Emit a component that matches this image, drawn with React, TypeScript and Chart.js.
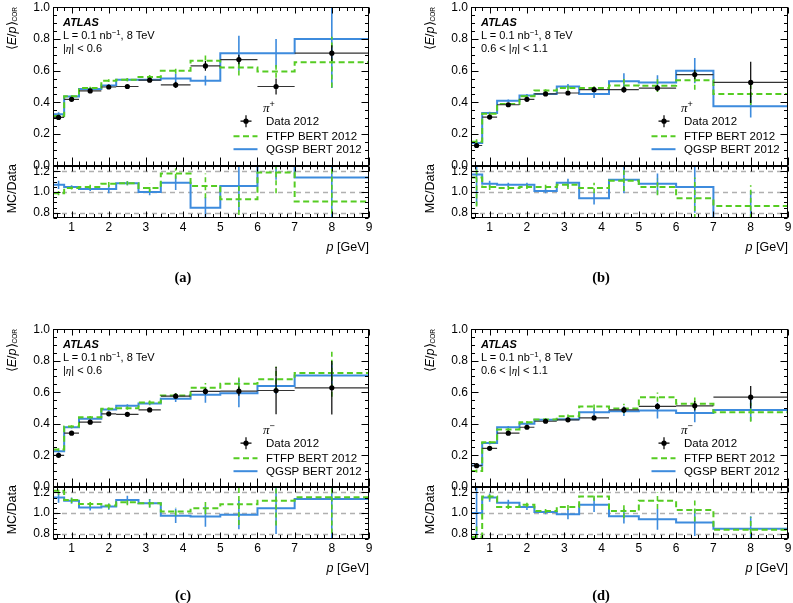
import React, { useEffect, useRef } from 'react';
import { Chart, registerables } from 'chart.js';

Chart.register(...registerables);

const SANS = "'Liberation Sans', Arial, Helvetica, sans-serif";
const SERIF = "'Liberation Serif', 'Times New Roman', serif";

// ---- binning / ticks ----
const BIN_EDGES = [0.5, 0.8, 1.2, 1.8, 2.2, 2.8, 3.4, 4.2, 5, 6, 7, 9];
const BIN_CENTERS = [0.65, 1.0, 1.5, 2.0, 2.5, 3.1, 3.8, 4.6, 5.5, 6.5, 8.0];
const X_TICKS = [1, 2, 3, 4, 5, 6, 7, 8, 9];
const MAIN_Y_TICKS = [0, 0.2, 0.4, 0.6, 0.8, 1.0];
const RATIO_Y_TICKS = [0.8, 1.0, 1.2];
const REF_LINES = [0.8, 1.0, 1.2];
const LEGEND_LABELS = ['Data 2012', 'FTFP BERT 2012', 'QGSP BERT 2012'];
const CAPTIONS = ['(a)', '(b)', '(c)', '(d)'];
const ETA_LABELS = ['|η| < 0.6', '0.6 < |η| < 1.1', '|η| < 0.6', '0.6 < |η| < 1.1'];
const CHARGES = ['+', '+', '−', '−'];

const BLUE = '#3d8bdd';
const GREEN = '#55cc22';

// ---- panel (a): pi+, |eta|<0.6 ----
const dataA = [0.305, 0.419, 0.472, 0.497, 0.5, 0.54, 0.51, 0.63, 0.67, 0.5, 0.71];
const dataErrA = [0.01, 0.006, 0.006, 0.006, 0.006, 0.008, 0.02, 0.03, 0.03, 0.05, 0.05];
const qgspA = [0.325, 0.437, 0.484, 0.507, 0.543, 0.543, 0.55, 0.537, 0.71, 0.71, 0.8];
const qgspErrA = [0.012, 0.006, 0.008, 0.008, 0.01, 0.012, 0.03, 0.03, 0.11, 0.09, 0.31];
const ftfpA = [0.314, 0.438, 0.49, 0.537, 0.543, 0.56, 0.6, 0.663, 0.62, 0.595, 0.653];
const ftfpErrA = [0.01, 0.006, 0.008, 0.008, 0.01, 0.012, 0.02, 0.05, 0.05, 0.04, 0.16];
const ratioQA = [1.07, 1.05, 1.03, 1.03, 1.085, 1.0, 1.09, 0.85, 1.06, 1.42, 1.14];
const ratioQErrA = [0.04, 0.015, 0.02, 0.04, 0.02, 0.03, 0.07, 0.1, 0.25, 0.3, 0.45];
const ratioFA = [0.99, 1.04, 1.05, 1.08, 1.085, 1.04, 1.18, 1.06, 0.93, 1.19, 0.91];
const ratioFErrA = [0.02, 0.015, 0.02, 0.03, 0.02, 0.04, 0.05, 0.12, 0.15, 0.2, 0.35];

// ---- panel (b): pi+, 0.6<|eta|<1.1 ----
const dataB = [0.128, 0.307, 0.385, 0.419, 0.453, 0.459, 0.48, 0.48, 0.49, 0.575, 0.526];
const dataErrB = [0.015, 0.006, 0.006, 0.006, 0.006, 0.008, 0.01, 0.02, 0.02, 0.03, 0.13];
const qgspB = [0.143, 0.333, 0.41, 0.444, 0.453, 0.5, 0.453, 0.533, 0.526, 0.6, 0.375];
const qgspErrB = [0.015, 0.008, 0.008, 0.008, 0.008, 0.015, 0.025, 0.05, 0.045, 0.08, 0.07];
const ftfpB = [0.152, 0.328, 0.39, 0.438, 0.474, 0.49, 0.49, 0.507, 0.505, 0.539, 0.453];
const ftfpErrB = [0.015, 0.008, 0.008, 0.008, 0.008, 0.015, 0.02, 0.04, 0.04, 0.06, 0.07];
const ratioQB = [1.17, 1.08, 1.07, 1.07, 1.01, 1.09, 0.94, 1.12, 1.08, 1.05, 0.71];
const ratioQErrB = [0.3, 0.03, 0.02, 0.02, 0.02, 0.04, 0.06, 0.13, 0.1, 0.25, 0.3];
const ratioFB = [1.14, 1.05, 1.04, 1.05, 1.05, 1.07, 1.04, 1.11, 1.05, 0.94, 0.865];
const ratioFErrB = [0.28, 0.03, 0.02, 0.02, 0.02, 0.04, 0.05, 0.1, 0.08, 0.2, 0.2];

// ---- panel (c): pi-, |eta|<0.6 ----
const dataC = [0.2, 0.34, 0.41, 0.463, 0.46, 0.488, 0.575, 0.605, 0.607, 0.611, 0.628];
const dataErrC = [0.006, 0.006, 0.006, 0.006, 0.006, 0.008, 0.015, 0.02, 0.03, 0.15, 0.17];
const qgspC = [0.225, 0.378, 0.431, 0.49, 0.514, 0.529, 0.558, 0.584, 0.594, 0.639, 0.707];
const qgspErrC = [0.008, 0.008, 0.008, 0.008, 0.01, 0.012, 0.02, 0.05, 0.09, 0.05, 0.08];
const ftfpC = [0.236, 0.382, 0.442, 0.495, 0.499, 0.535, 0.58, 0.628, 0.654, 0.682, 0.722];
const ftfpErrC = [0.008, 0.008, 0.008, 0.008, 0.01, 0.012, 0.015, 0.03, 0.04, 0.08, 0.15];
const ratioQC = [1.15, 1.12, 1.054, 1.063, 1.127, 1.095, 0.975, 0.968, 0.984, 1.048, 1.137];
const ratioQErrC = [0.05, 0.03, 0.03, 0.03, 0.04, 0.04, 0.07, 0.1, 0.14, 0.25, 0.4];
const ratioFC = [1.216, 1.127, 1.089, 1.073, 1.105, 1.095, 1.016, 1.048, 1.086, 1.12, 1.152];
const ratioFErrC = [0.04, 0.03, 0.03, 0.03, 0.03, 0.04, 0.04, 0.06, 0.2, 0.24, 0.35];

// ---- panel (d): pi-, 0.6<|eta|<1.1 ----
const dataD = [0.134, 0.244, 0.34, 0.378, 0.416, 0.425, 0.437, 0.488, 0.51, 0.514, 0.569];
const dataErrD = [0.01, 0.006, 0.006, 0.006, 0.006, 0.008, 0.01, 0.02, 0.02, 0.03, 0.07];
const qgspD = [0.135, 0.278, 0.378, 0.4, 0.425, 0.429, 0.473, 0.48, 0.484, 0.469, 0.488];
const qgspErrD = [0.015, 0.01, 0.008, 0.008, 0.008, 0.015, 0.025, 0.03, 0.05, 0.06, 0.07];
const ftfpD = [0.1, 0.282, 0.363, 0.41, 0.427, 0.448, 0.51, 0.497, 0.569, 0.527, 0.473];
const ftfpErrD = [0.01, 0.008, 0.008, 0.008, 0.008, 0.01, 0.02, 0.03, 0.03, 0.04, 0.06];
const ratioQD = [1.0, 1.15, 1.1, 1.06, 1.01, 0.99, 1.08, 0.97, 0.94, 0.91, 0.85];
const ratioQErrD = [0.25, 0.04, 0.03, 0.03, 0.02, 0.05, 0.07, 0.07, 0.1, 0.13, 0.12];
const ratioFD = [0.77, 1.16, 1.06, 1.08, 1.02, 1.06, 1.16, 1.02, 1.12, 1.03, 0.84];
const ratioFErrD = [0.1, 0.03, 0.02, 0.02, 0.02, 0.03, 0.04, 0.07, 0.08, 0.11, 0.12];

// layout constants
const YW = 42; // y-axis label strip width
const PT = 10;
const PR = 10;
const PB = 10;
const XH = 22;

type PanelSpec = {
  L: number; W: number; T: number; H: number; RH: number; CAP: number;
  data: number[]; dataErr: number[];
  qgsp: number[]; qgspErr: number[];
  ftfp: number[]; ftfpErr: number[];
  rQ: number[]; rQErr: number[];
  rF: number[]; rFErr: number[];
  idx: number;
};

const PANELS: PanelSpec[] = [
  { idx: 0, L: 53, W: 316, T: 7, H: 159, RH: 52, CAP: 59, data: dataA, dataErr: dataErrA, qgsp: qgspA, qgspErr: qgspErrA, ftfp: ftfpA, ftfpErr: ftfpErrA, rQ: ratioQA, rQErr: ratioQErrA, rF: ratioFA, rFErr: ratioFErrA },
  { idx: 1, L: 471, W: 317, T: 7, H: 159, RH: 52, CAP: 59, data: dataB, dataErr: dataErrB, qgsp: qgspB, qgspErr: qgspErrB, ftfp: ftfpB, ftfpErr: ftfpErrB, rQ: ratioQB, rQErr: ratioQErrB, rF: ratioFB, rFErr: ratioFErrB },
  { idx: 2, L: 53, W: 316, T: 329, H: 158, RH: 52, CAP: 55.5, data: dataC, dataErr: dataErrC, qgsp: qgspC, qgspErr: qgspErrC, ftfp: ftfpC, ftfpErr: ftfpErrC, rQ: ratioQC, rQErr: ratioQErrC, rF: ratioFC, rFErr: ratioFErrC },
  { idx: 3, L: 471, W: 317, T: 329, H: 158, RH: 52, CAP: 55.5, data: dataD, dataErr: dataErrD, qgsp: qgspD, qgspErr: qgspErrD, ftfp: ftfpD, ftfpErr: ftfpErrD, rQ: ratioQD, rQErr: ratioQErrD, rF: ratioFD, rFErr: ratioFErrD },
];

// ---- helpers building library points from the arrays ----
const stepPoints = (vals: number[]) => {
  const pts: any[] = vals.map((v, i) => ({ x: BIN_EDGES[i], y: v }));
  pts.push({ x: BIN_EDGES[vals.length], y: vals[vals.length - 1] });
  return pts;
};
const vBars = (vals: number[], errs: number[]) =>
  vals.flatMap((v, i) => [
    { x: BIN_CENTERS[i], y: v - errs[i] },
    { x: BIN_CENTERS[i], y: v + errs[i] },
    { x: BIN_CENTERS[i], y: null },
  ]);
const hBars = (vals: number[]) =>
  vals.flatMap((v, i) => [
    { x: BIN_EDGES[i], y: v },
    { x: BIN_EDGES[i + 1], y: v },
    { x: BIN_EDGES[i + 1], y: null },
  ]);

const ds = (data: any[], color: string, width: number, dash: number[], extra: any = {}) => ({
  data,
  borderColor: color,
  backgroundColor: color,
  borderWidth: width,
  borderDash: dash,
  pointRadius: 0,
  pointHoverRadius: 0,
  pointHitRadius: 0,
  fill: false,
  tension: 0,
  spanGaps: false,
  clip: 0,
  ...extra,
});

// ---- plugins: ATLAS-style frame with inward ticks, reference lines, legend ----
const axesPlugin = {
  id: 'atlasAxes',
  beforeDatasetsDraw(chart: any, _a: any, o: any) {
    if (!o || !o.refLines) return;
    const { ctx, chartArea: a, scales } = chart;
    ctx.save();
    ctx.strokeStyle = '#b0b0b0';
    ctx.lineWidth = 1.4;
    ctx.setLineDash([5, 4]);
    for (const v of o.refLines) {
      const y = Math.round(scales.y.getPixelForValue(v)) + 0.5;
      ctx.beginPath();
      ctx.moveTo(a.left, y);
      ctx.lineTo(a.right, y);
      ctx.stroke();
    }
    ctx.restore();
  },
  afterDraw(chart: any, _a: any, o: any) {
    if (!o) return;
    const { ctx, chartArea: a, scales } = chart;
    const x = scales.x;
    const y = scales.y;
    const L = Math.round(a.left) + 0.5;
    const R = Math.round(a.right) - 0.5;
    const T = Math.round(a.top) + 0.5;
    const B = Math.round(a.bottom) - 0.5;
    ctx.save();
    ctx.strokeStyle = '#000';
    ctx.lineWidth = 1;
    ctx.setLineDash([]);
    ctx.strokeRect(L, T, R - L, B - T);
    ctx.beginPath();
    const kx0 = Math.ceil(x.min / o.xMinor - 1e-6);
    const kx1 = Math.floor(x.max / o.xMinor + 1e-6);
    for (let k = kx0; k <= kx1; k++) {
      const v = k * o.xMinor;
      const major = Math.abs(v / o.xMajor - Math.round(v / o.xMajor)) < 1e-6;
      const px = Math.round(x.getPixelForValue(v)) + 0.5;
      ctx.moveTo(px, B);
      ctx.lineTo(px, B - (major ? o.xMajorLenB : o.xMinorLenB));
      ctx.moveTo(px, T);
      ctx.lineTo(px, T + (major ? o.xMajorLenT : o.xMinorLenT));
    }
    const ky0 = Math.ceil(y.min / o.yMinor - 1e-6);
    const ky1 = Math.floor(y.max / o.yMinor + 1e-6);
    for (let k = ky0; k <= ky1; k++) {
      const v = k * o.yMinor;
      const major = Math.abs(v / o.yMajor - Math.round(v / o.yMajor)) < 1e-6;
      const len = major ? o.yMajorLen : o.yMinorLen;
      const py = Math.round(y.getPixelForValue(v)) + 0.5;
      ctx.moveTo(L, py);
      ctx.lineTo(L + len, py);
      ctx.moveTo(R, py);
      ctx.lineTo(R - len, py);
    }
    ctx.stroke();
    ctx.restore();
  },
};

const legendPlugin = {
  id: 'atlasLegend',
  afterDraw(chart: any, _a: any, o: any) {
    if (!o || !o.labels) return;
    const { ctx, chartArea: a } = chart;
    const sx = a.left + o.sampleX;
    const tx = a.left + o.textX;
    const ys = o.rows.map((r: number) => a.top + r);
    ctx.save();
    // data marker with error cross
    ctx.strokeStyle = '#000';
    ctx.lineWidth = 1.2;
    ctx.beginPath();
    ctx.moveTo(sx, ys[0] - 6);
    ctx.lineTo(sx, ys[0] + 6);
    ctx.moveTo(sx - 5.5, ys[0]);
    ctx.lineTo(sx + 5.5, ys[0]);
    ctx.stroke();
    ctx.fillStyle = '#000';
    ctx.beginPath();
    ctx.arc(sx, ys[0], 2.6, 0, Math.PI * 2);
    ctx.fill();
    // FTFP dashed
    ctx.strokeStyle = GREEN;
    ctx.lineWidth = 2;
    ctx.setLineDash([6, 3.5]);
    ctx.beginPath();
    ctx.moveTo(sx - 12.5, ys[1]);
    ctx.lineTo(sx + 11.5, ys[1]);
    ctx.stroke();
    // QGSP solid
    ctx.setLineDash([]);
    ctx.strokeStyle = BLUE;
    ctx.beginPath();
    ctx.moveTo(sx - 12.5, ys[2]);
    ctx.lineTo(sx + 11.5, ys[2]);
    ctx.stroke();
    // texts
    ctx.fillStyle = '#000';
    ctx.font = `11.5px ${SANS}`;
    ctx.textAlign = 'left';
    ctx.textBaseline = 'middle';
    o.labels.forEach((t: string, i: number) => ctx.fillText(t, tx, ys[i] + 0.5));
    ctx.restore();
  },
};

const yScale = (min: number, max: number, ticks: number[]) => ({
  type: 'linear',
  min,
  max,
  grid: { display: false, drawTicks: false },
  border: { display: false },
  ticks: {
    padding: 3,
    autoSkip: false,
    color: '#000',
    font: { family: SANS, size: 12 },
    callback: (v: any) => Number(v).toFixed(1),
  },
  afterBuildTicks: (s: any) => {
    s.ticks = ticks.map((v) => ({ value: v }));
  },
  afterFit: (s: any) => {
    s.width = YW;
  },
});

function mainConfig(p: PanelSpec): any {
  return {
    type: 'line',
    data: {
      datasets: [
        ds(BIN_CENTERS.map((x, i) => ({ x, y: p.data[i] })), '#000', 0, [], {
          showLine: false,
          pointRadius: 2.6,
          pointBackgroundColor: '#000',
          pointBorderWidth: 0,
        }),
        ds(vBars(p.data, p.dataErr), '#000', 1.2, []),
        ds(hBars(p.data), '#333', 1.2, []),
        ds(vBars(p.ftfp, p.ftfpErr), GREEN, 1.6, [5, 3]),
        ds(stepPoints(p.ftfp), GREEN, 2, [6, 3.5], { stepped: 'before' }),
        ds(vBars(p.qgsp, p.qgspErr), BLUE, 1.6, []),
        ds(stepPoints(p.qgsp), BLUE, 2, [], { stepped: 'before' }),
      ],
    },
    options: {
      animation: false,
      responsive: false,
      maintainAspectRatio: false,
      devicePixelRatio: 1,
      events: [],
      layout: { padding: { left: 0, right: PR, top: PT, bottom: PB } },
      plugins: {
        legend: { display: false },
        tooltip: { enabled: false },
        atlasAxes: {
          xMajor: 1, xMinor: 0.2, xMajorLenB: 8, xMinorLenB: 4, xMajorLenT: 6, xMinorLenT: 3.5,
          yMajor: 0.2, yMinor: 0.05, yMajorLen: 7, yMinorLen: 3.5,
        },
        atlasLegend: { labels: LEGEND_LABELS, rows: [114, 129, 142], sampleX: 193, textX: 213 },
      },
      scales: {
        x: { type: 'linear', min: 0.5, max: 9, display: false },
        y: yScale(0, 1, MAIN_Y_TICKS),
      },
    },
    plugins: [axesPlugin, legendPlugin],
  };
}

function ratioConfig(p: PanelSpec): any {
  return {
    type: 'line',
    data: {
      datasets: [
        ds(vBars(p.rF, p.rFErr), GREEN, 1.6, [5, 3]),
        ds(stepPoints(p.rF), GREEN, 2, [6, 3.5], { stepped: 'before' }),
        ds(vBars(p.rQ, p.rQErr), BLUE, 1.6, []),
        ds(stepPoints(p.rQ), BLUE, 2, [], { stepped: 'before' }),
      ],
    },
    options: {
      animation: false,
      responsive: false,
      maintainAspectRatio: false,
      devicePixelRatio: 1,
      events: [],
      layout: { padding: { left: 0, right: PR, top: PT, bottom: 0 } },
      plugins: {
        legend: { display: false },
        tooltip: { enabled: false },
        atlasAxes: {
          refLines: REF_LINES,
          xMajor: 1, xMinor: 0.2, xMajorLenB: 6, xMinorLenB: 3.5, xMajorLenT: 5, xMinorLenT: 3,
          yMajor: 0.2, yMinor: 0.05, yMajorLen: 7, yMinorLen: 3.5,
        },
      },
      scales: {
        x: {
          type: 'linear',
          min: 0.5,
          max: 9,
          position: 'bottom',
          grid: { display: false, drawTicks: false },
          border: { display: false },
          ticks: {
            padding: 2,
            autoSkip: false,
            maxRotation: 0,
            color: '#000',
            font: { family: SANS, size: 12 },
            callback: (v: any) => String(v),
          },
          afterBuildTicks: (s: any) => {
            s.ticks = X_TICKS.map((v) => ({ value: v }));
          },
          afterFit: (s: any) => {
            s.height = XH;
          },
        },
        y: yScale(0.75, 1.25, RATIO_Y_TICKS),
      },
    },
    plugins: [axesPlugin],
  };
}

const abs = (style: React.CSSProperties): React.CSSProperties => ({
  position: 'absolute',
  fontFamily: SANS,
  color: '#000',
  whiteSpace: 'nowrap',
  lineHeight: 1,
  ...style,
});

const supStyle: React.CSSProperties = { fontSize: '0.7em', lineHeight: 0, verticalAlign: '0.45em' };

function EtaText({ text }: { text: string }) {
  const parts = text.split('η');
  return (
    <>
      {parts.map((s, i) => (
        <React.Fragment key={i}>
          {s}
          {i < parts.length - 1 && <span style={{ fontFamily: SERIF, fontStyle: 'italic' }}>η</span>}
        </React.Fragment>
      ))}
    </>
  );
}

function Panel({ p }: { p: PanelSpec }) {
  const mainRef = useRef<HTMLCanvasElement>(null);
  const ratioRef = useRef<HTMLCanvasElement>(null);

  useEffect(() => {
    const m = new Chart(mainRef.current as HTMLCanvasElement, mainConfig(p));
    const r = new Chart(ratioRef.current as HTMLCanvasElement, ratioConfig(p));
    return () => {
      m.destroy();
      r.destroy();
    };
  }, [p]);

  const cw = YW + p.W + PR;
  const mh = PT + p.H + PB;
  const rh = PT + p.RH + XH;
  const RT = p.T + p.H;
  const RB = RT + p.RH;

  return (
    <>
      <canvas
        ref={mainRef}
        width={cw}
        height={mh}
        style={{ position: 'absolute', left: p.L - YW, top: p.T - PT, width: cw, height: mh }}
      />
      <canvas
        ref={ratioRef}
        width={cw}
        height={rh}
        style={{ position: 'absolute', left: p.L - YW, top: RT - PT, width: cw, height: rh }}
      />
      {/* y-axis titles */}
      <div
        style={abs({
          left: p.L - 41,
          top: p.T,
          fontSize: 12.5,
          writingMode: 'vertical-rl',
          transform: 'translateX(-50%) rotate(180deg)',
        })}
      >
        ⟨<i>E</i>/<i>p</i>⟩<sub style={{ fontSize: 6.5, lineHeight: 0 }}>COR</sub>
      </div>
      <div
        style={abs({
          left: p.L - 41,
          top: RT - 2,
          fontSize: 12.5,
          writingMode: 'vertical-rl',
          transform: 'translateX(-50%) rotate(180deg)',
        })}
      >
        MC/Data
      </div>
      {/* x-axis title */}
      <div style={abs({ left: p.L + p.W, top: RB + 29, fontSize: 12.5, transform: 'translate(-100%, -50%)' })}>
        <i>p</i> [GeV]
      </div>
      {/* ATLAS labels */}
      <div style={abs({ left: p.L + 10, top: p.T + 15, fontSize: 11, fontWeight: 'bold', fontStyle: 'italic', transform: 'translateY(-50%)' })}>
        ATLAS
      </div>
      <div style={abs({ left: p.L + 10, top: p.T + 28, fontSize: 11, transform: 'translateY(-50%)' })}>
        L = 0.1 nb<span style={supStyle}>−1</span>, 8 TeV
      </div>
      <div style={abs({ left: p.L + 10, top: p.T + 41, fontSize: 11, transform: 'translateY(-50%)' })}>
        <EtaText text={ETA_LABELS[p.idx]} />
      </div>
      <div style={abs({ left: p.L + 210, top: p.T + 100, fontSize: 13, transform: 'translateY(-50%)' })}>
        <span style={{ fontFamily: SERIF, fontStyle: 'italic' }}>π</span>
        <span style={supStyle}>{CHARGES[p.idx]}</span>
      </div>
      {/* caption */}
      <div
        style={abs({
          left: p.L + 130,
          top: RB + p.CAP,
          fontFamily: SERIF,
          fontWeight: 'bold',
          fontSize: 14.5,
          transform: 'translate(-50%, -50%)',
        })}
      >
        {CAPTIONS[p.idx]}
      </div>
    </>
  );
}

export default function App() {
  return (
    <div
      style={{
        position: 'absolute',
        left: 0,
        top: 0,
        width: 793,
        height: 603,
        overflow: 'hidden',
        background: '#fff',
      }}
    >
      {PANELS.map((p) => (
        <Panel key={p.idx} p={p} />
      ))}
    </div>
  );
}
